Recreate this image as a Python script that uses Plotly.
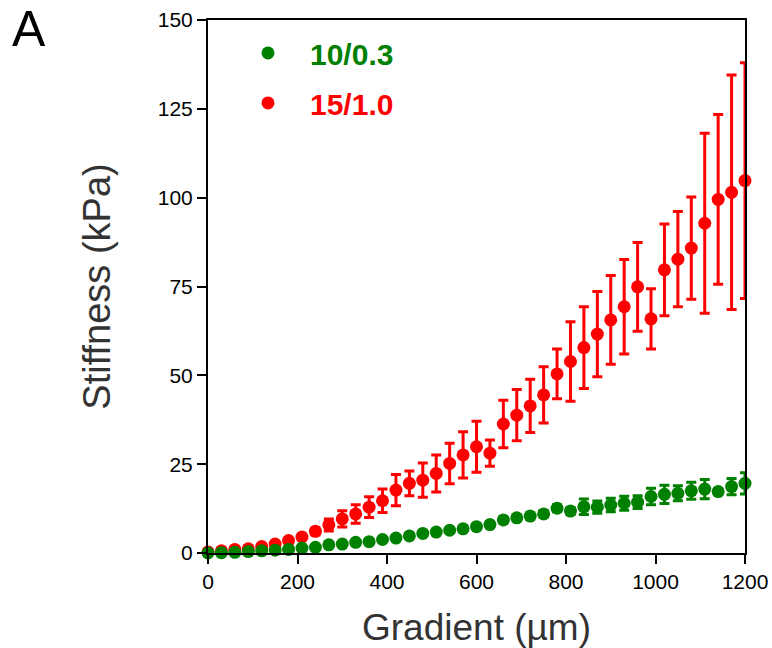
import plotly.graph_objects as go

gradient_um = [0, 30, 60, 90, 120, 150, 180, 210, 240, 270, 300, 330, 360, 390, 420,
               450, 480, 510, 540, 570, 600, 630, 660, 690, 720, 750, 780, 810, 840,
               870, 900, 930, 960, 990, 1020, 1050, 1080, 1110, 1140, 1170, 1200]

stiff_15_10 = [0.3, 0.6, 1.0, 1.2, 1.8, 2.5, 3.5, 4.5, 6.1, 7.9, 9.6, 11.0, 12.9, 14.7,
               17.7, 19.6, 20.5, 22.4, 25.2, 27.6, 29.9, 28.1, 36.3, 38.8, 41.4, 44.5,
               50.4, 53.9, 57.8, 61.6, 65.6, 69.3, 74.9, 65.9, 79.7, 82.7, 85.8, 92.8,
               99.5, 101.5, 104.8]
err_15_10 = [0.1, 0.2, 0.3, 0.3, 0.4, 0.5, 0.6, 0.8, 1.0, 1.7, 2.3, 2.6, 2.9, 3.3, 4.4,
             3.5, 4.8, 5.2, 5.7, 6.5, 7.2, 3.7, 6.7, 7.2, 7.5, 7.9, 7.0, 11.2, 11.5,
             12.0, 12.5, 13.3, 12.5, 8.5, 12.9, 13.4, 14.4, 25.3, 23.9, 33.0, 33.2]

stiff_10_03 = [0.0, 0.1, 0.2, 0.4, 0.6, 0.8, 1.0, 1.4, 1.6, 2.3, 2.5, 3.0, 3.2, 3.8, 4.2,
               4.8, 5.5, 5.9, 6.4, 6.8, 7.4, 8.0, 9.3, 9.9, 10.4, 11.0, 12.6, 11.8, 13.0,
               12.9, 13.5, 14.0, 14.3, 15.9, 16.5, 16.8, 17.5, 18.0, 17.3, 18.7, 19.6]
err_10_03 = [0.05, 0.05, 0.1, 0.1, 0.1, 0.1, 0.2, 0.2, 0.2, 0.3, 0.3, 0.3, 0.4, 0.4, 0.4,
             0.5, 0.5, 0.5, 0.6, 0.6, 0.6, 0.7, 0.8, 0.8, 0.9, 0.9, 1.0, 1.0, 2.2,
             1.7, 1.9, 2.0, 1.8, 2.3, 2.6, 2.1, 2.4, 2.7, 0.8, 2.3, 3.0]

x_ticks = [0, 200, 400, 600, 800, 1000, 1200]
y_ticks = [0, 25, 50, 75, 100, 125, 150]

RED = "#FF0000"
GREEN = "#008000"
FONT = "Liberation Sans, Arial, sans-serif"

fig = go.Figure()
fig.add_trace(go.Scatter(
    x=gradient_um, y=stiff_15_10, mode="markers",
    name="<b><span style='color:#FF0000'>15/1.0</span></b>",
    marker=dict(color=RED, size=13),
    error_y=dict(type="data", array=err_15_10, color=RED, thickness=3, width=5),
    cliponaxis=False, legendrank=2, legendgroup="b",
))
fig.add_trace(go.Scatter(
    x=gradient_um, y=stiff_10_03, mode="markers",
    name="<b><span style='color:#008000'>10/0.3</span></b>",
    marker=dict(color=GREEN, size=13),
    error_y=dict(type="data", array=err_10_03, color=GREEN, thickness=3, width=5),
    cliponaxis=False, legendrank=1, legendgroup="a",
))

axis_common = dict(
    automargin=False,
    showgrid=False, zeroline=False, showline=True, linecolor="black", linewidth=2,
    mirror=True, ticks="outside", ticklen=9, tickwidth=2, tickcolor="black",
    tickfont=dict(family=FONT, size=21, color="black"),
)

fig.update_layout(
    width=772, height=648,
    margin=dict(l=208, r=27, t=20, b=95, autoexpand=False),
    paper_bgcolor="white", plot_bgcolor="white",
    font=dict(family=FONT),
    xaxis=dict(range=[0, 1200], tickvals=x_ticks,
               title=dict(text="Gradient (µm)", standoff=22,
                          font=dict(size=37, color="#333333")),
               **axis_common),
    yaxis=dict(range=[0, 150], tickvals=y_ticks,
               title=dict(text="Stiffness (kPa)", standoff=35,
                          font=dict(size=38, color="#333333")),
               **axis_common),
    legend=dict(x=0.0335, y=0.987, xanchor="left", yanchor="top", itemwidth=74,
                bgcolor="rgba(0,0,0,0)", traceorder="grouped", tracegroupgap=8,
                font=dict(size=30, family=FONT)),
    showlegend=True,
)
fig.add_annotation(text="A", xref="paper", yref="paper",
                   x=(11 - 208) / 537, y=1 + 20 / 533,
                   xanchor="left", yanchor="top", showarrow=False, borderpad=0,
                   font=dict(size=50, color="black", family=FONT))

# remove the default 8px page margin so the figure fills the window exactly
fig.write_html("out.html", config={"displayModeBar": False},
               post_script="document.body.style.margin='0';")
